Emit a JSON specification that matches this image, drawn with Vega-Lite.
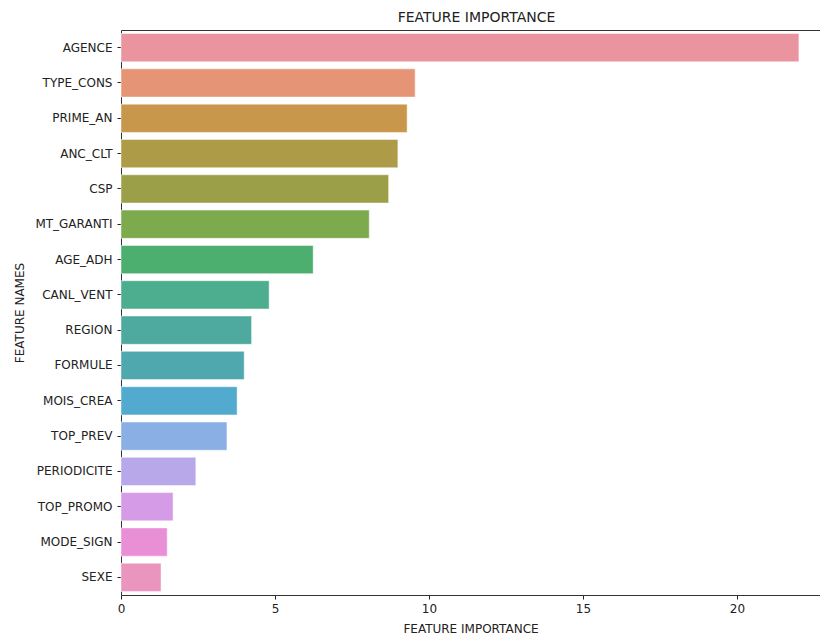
{
  "$schema": "https://vega.github.io/schema/vega-lite/v6.json",
  "autosize": {"type": "none"},
  "width": 699,
  "height": 565,
  "padding": {"left": 121, "top": 30, "right": 0, "bottom": 43},
  "background": "white",
  "config": {
    "view": {"stroke": null},
    "font": "DejaVu Sans",
    "axis": {
      "grid": false,
      "domainColor": "#333333",
      "domainWidth": 1,
      "tickColor": "#222222",
      "tickSize": 4,
      "labelPadding": 5,
      "labelFont": "DejaVu Sans",
      "labelFontSize": 12,
      "labelColor": "#222222",
      "titleFont": "DejaVu Sans",
      "titleFontSize": 12,
      "titleFontWeight": "normal",
      "titleColor": "#222222"
    }
  },
  "title": {
    "text": "FEATURE IMPORTANCE",
    "font": "DejaVu Sans",
    "fontSize": 14,
    "fontWeight": "normal",
    "color": "#222222",
    "offset": 5,
    "dx": 6
  },
  "data": {
    "values": [
      {"feature": "AGENCE", "importance": 22.01, "color": "#E9949F"},
      {"feature": "TYPE_CONS", "importance": 9.55, "color": "#E59576"},
      {"feature": "PRIME_AN", "importance": 9.29, "color": "#C9974B"},
      {"feature": "ANC_CLT", "importance": 8.99, "color": "#AE9B47"},
      {"feature": "CSP", "importance": 8.69, "color": "#9B9F48"},
      {"feature": "MT_GARANTI", "importance": 8.06, "color": "#7CAA4C"},
      {"feature": "AGE_ADH", "importance": 6.24, "color": "#4CAF6F"},
      {"feature": "CANL_VENT", "importance": 4.81, "color": "#4DAE8F"},
      {"feature": "REGION", "importance": 4.24, "color": "#4EAA9F"},
      {"feature": "FORMULE", "importance": 4.0, "color": "#4FA8AE"},
      {"feature": "MOIS_CREA", "importance": 3.77, "color": "#52ABCE"},
      {"feature": "TOP_PREV", "importance": 3.44, "color": "#8AAFE4"},
      {"feature": "PERIODICITE", "importance": 2.43, "color": "#B8A8EA"},
      {"feature": "TOP_PROMO", "importance": 1.69, "color": "#D59BE6"},
      {"feature": "MODE_SIGN", "importance": 1.5, "color": "#E98FD6"},
      {"feature": "SEXE", "importance": 1.3, "color": "#EA95BE"}
    ]
  },
  "layer": [
    {
      "mark": {"type": "bar", "stroke": "white", "strokeWidth": 0.8, "strokeOpacity": 0.6},
      "encoding": {
        "y": {
          "field": "feature",
          "type": "nominal",
          "sort": null,
          "scale": {"paddingInner": 0.2, "paddingOuter": 0.1},
          "axis": {"title": "FEATURE NAMES", "titlePadding": 8}
        },
        "x": {
          "field": "importance",
          "type": "quantitative",
          "scale": {"domain": [0, 22.695], "nice": false, "zero": true},
          "axis": {"title": "FEATURE IMPORTANCE", "values": [0, 5, 10, 15, 20], "format": "d", "titlePadding": 9, "labelPadding": 4, "labelFlush": false}
        },
        "color": {"field": "color", "type": "nominal", "scale": null}
      }
    },
    {
      "mark": {"type": "bar", "opacity": 0},
      "encoding": {
        "y": {"field": "feature", "type": "nominal", "sort": null},
        "x": {
          "field": "importance",
          "type": "quantitative",
          "axis": {"orient": "top", "labels": false, "ticks": false, "title": null}
        }
      }
    }
  ],
  "resolve": {"axis": {"x": "independent"}}
}
